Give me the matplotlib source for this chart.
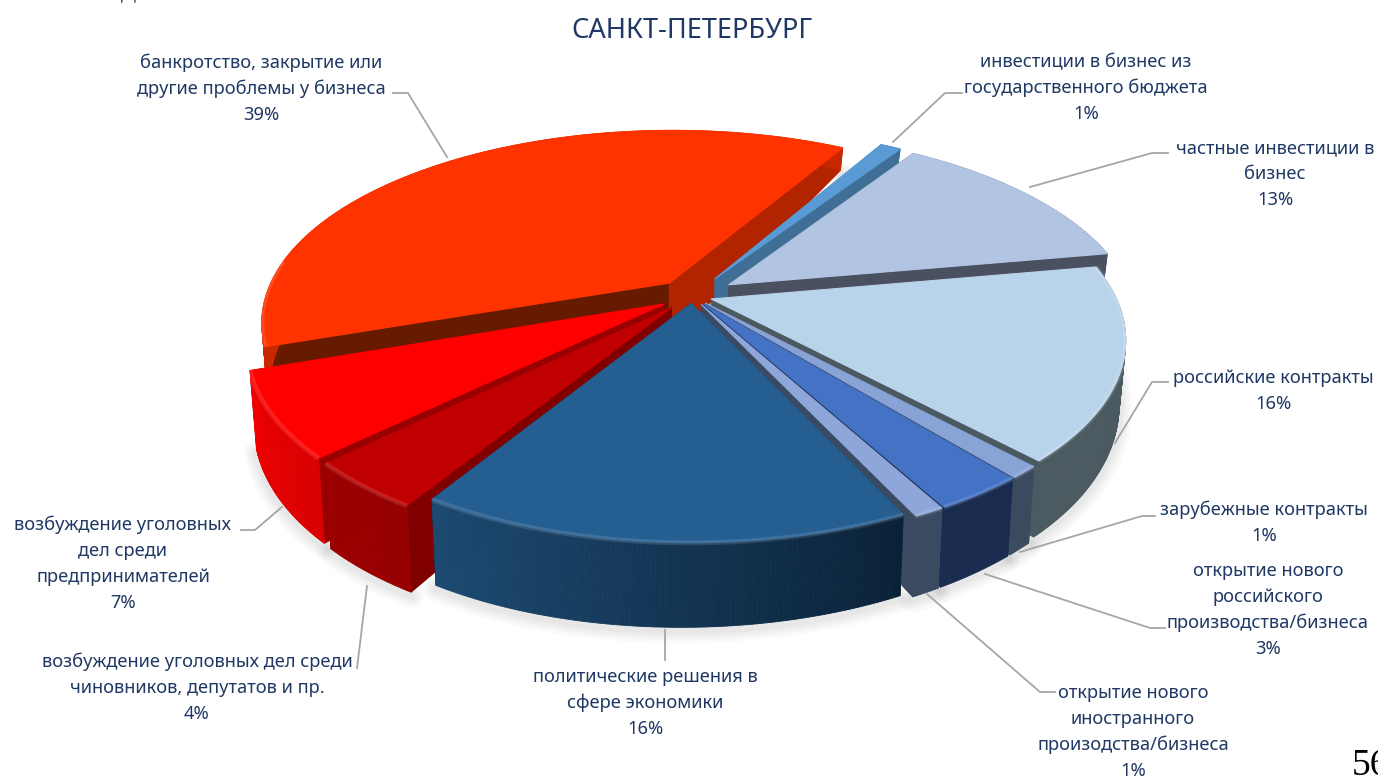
import numpy as np
import matplotlib
matplotlib.use("Agg")
import matplotlib.pyplot as plt
from matplotlib.colors import to_rgb
from matplotlib.patches import Polygon

# ---------- data ----------
categories = ["инвестиции в бизнес из\nгосударственного бюджета",
              "частные инвестиции в\nбизнес",
              "российские контракты",
              "зарубежные контракты",
              "открытие нового\nроссийского\nпроизводства/бизнеса",
              "открытие нового\nиностранного\nпроизодства/бизнеса",
              "политические решения в\nсфере экономики",
              "возбуждение уголовных дел среди\nчиновников, депутатов и пр.",
              "возбуждение уголовных\nдел среди\nпредпринимателей",
              "банкротство, закрытие или\nдругие проблемы у бизнеса"]
values = [1, 13, 16, 1, 3, 1, 16, 4, 7, 39]
title = "САНКТ-ПЕТЕРБУРГ"

# ---------- styles ----------
explode = [0.11, 0.11, 0.05, 0.05, 0.05, 0.05, 0.04, 0.08, 0.08, 0.09]
top_col = ["#5b9bd5", "#b1c4e2", "#b9d4ea", "#8aa3d6", "#4472c4", "#8ea6da",
           "#255e91", "#c00000", "#ff0000", "#ff3300"]
wall_a = ["#3f6e96", "#4a5060", "#4b5a60", "#3c4a60", "#192c50", "#3a4a60",
          "#0a2238", "#960000", "#d80000", "#c82800"]
wall_b = ["#3f6e96", "#4a5060", "#4b5a60", "#3c4a60", "#192c50", "#3a4a60",
          "#1d4a72", "#9c0000", "#f00000", "#c82800"]
rad_cw = ["#3f6e96", "#4a5060", "#4b5a60", "#3c4a60", "#192c50", "#3a4a60",
          "#0a2238", "#800000", "#990000", "#b22400"]
rad_ccw = ["#3f6e96", "#4a5060", "#4b5a60", "#3c4a60", "#192c50", "#3a4a60",
           "#3a4a60", "#800000", "#990000", "#661a00"]
paint_order = [9, 0, 1, 2, 8, 3, 4, 7, 5, 6]
start_deg = 30.0
cx, cy, rx, ry, persp = 692.0, 296.0, 404.0, 188.0, 0.20
text_col = "#1f3864"
line_col = "#a6a6a6"

label_pos = [(1086, 62), (1275, 148), (1273, 378), (1264, 510), (1268, 571),
             (1133, 693), (645, 677), (197, 662), (123, 525), (261, 63)]
leaders = [[(962, 93), (945, 93), (893, 142)],
           [(1168, 153), (1152, 153), (1030, 187)],
           [(1168, 382), (1152, 382), (1115, 443)],
           [(1155, 516), (1142, 516), (1020, 552)],
           [(1165, 628), (1150, 628), (985, 574)],
           [(1055, 692), (1040, 692), (927, 594)],
           [(665, 660), (665, 630)],
           [(357, 668), (367, 586)],
           [(241, 530), (255, 530), (282, 507)],
           [(393, 93), (408, 93), (447, 157)]]

fig = plt.figure(figsize=(13.78, 7.76), dpi=100, facecolor="white")
ax = fig.add_axes([0, 0, 1, 1])
ax.set_xlim(0, 1378)
ax.set_ylim(776, 0)
ax.axis("off")


def project(x, y):
    s = 1 / (1 + persp * y)
    return cx + rx * x * s, cy - ry * y * s


def lower(px, py, x, y):
    return cx + (px - cx) * 0.985, py + (63 - 31 * y - 10 * y ** 2 - 6 * x)


share = np.array(values, float) / sum(values) * 360
edges = start_deg + np.concatenate([[0], np.cumsum(share)])

geo = []
for i in range(len(values)):
    t = np.radians(np.linspace(edges[i], edges[i + 1], max(int(share[i] * 2), 8)))
    m = np.radians((edges[i] + edges[i + 1]) / 2)
    ox, oy = explode[i] * np.sin(m), explode[i] * np.cos(m)
    ux, uy = ox + np.sin(t), oy + np.cos(t)
    ax_, ay_ = project(ox, oy)
    px, py = project(ux, uy)
    bx, by = lower(px, py, ux, uy)
    abx, aby = lower(ax_, ay_, ox, oy)
    geo.append(dict(ax=ax_, ay=ay_, px=px, py=py, bx=bx, by=by, abx=abx, aby=aby, uy=uy))

# soft ground shadow
for w, a in zip([26, 20, 14, 8], [0.025, 0.03, 0.035, 0.04]):
    for g in geo:
        ax.plot(g["bx"], g["by"] + 3, color="#505050", alpha=a, lw=w * 0.72,
                solid_capstyle="round", zorder=1)

z = 2
for i in paint_order:
    g = geo[i]
    # radial walls
    for k, col in ((0, rad_ccw[i]), (-1, rad_cw[i])):
        pts = [(g["ax"], g["ay"]), (g["px"][k], g["py"][k]),
               (g["bx"][k], g["by"][k]), (g["abx"], g["aby"])]
        ax.add_patch(Polygon(pts, closed=True, fc=col, ec=col, lw=0.6, zorder=z))
    z += 1
    # outer wall with gradient along the arc
    ca, cb = np.array(to_rgb(wall_a[i])), np.array(to_rgb(wall_b[i]))
    n = len(g["px"]) - 1
    for j in range(n):
        f = j / max(n - 1, 1)
        col = tuple(ca + (cb - ca) * f)
        pts = [(g["px"][j], g["py"][j]), (g["px"][j + 1], g["py"][j + 1]),
               (g["bx"][j + 1], g["by"][j + 1]), (g["bx"][j], g["by"][j])]
        ax.add_patch(Polygon(pts, closed=True, fc=col, ec=col, lw=0.6, zorder=z))
    z += 1
    # top face
    pts = [(g["ax"], g["ay"])] + list(zip(g["px"], g["py"]))
    ax.add_patch(Polygon(pts, closed=True, fc=top_col[i], ec=top_col[i], lw=0.8,
                         joinstyle="round", zorder=z))
    z += 1
    # bevel highlight on the front part of the rim
    front = g["uy"] < 0.2
    if front.any():
        ax.plot(g["px"][front], g["py"][front], color="white", alpha=0.12, lw=3.5,
                solid_capstyle="butt", zorder=z)
    z += 1

# leader lines
for pts in leaders:
    xs, ys = zip(*pts)
    ax.plot(xs, ys, color=line_col, lw=1.3, zorder=z)
z += 1

# labels
font = "Noto Sans"
fs = 13.2
for name, val, (lx, ly) in zip(categories, values, label_pos):
    for n, line in enumerate(name.split("\n") + [f"{val}%"]):
        ax.text(lx, ly + n * 26.0, line, ha="center", va="center", family=font,
                fontsize=fs, color=text_col, zorder=z)

ax.text(692, 31, title, ha="center", va="center", family=font, fontsize=19.6,
        color="#1f3864", zorder=z)
ax.text(1352, 775, "56", ha="left", va="baseline", family="Liberation Serif",
        fontsize=27, color="black", zorder=z)
ax.text(121, -2, "Д", ha="left", va="baseline", family="Liberation Serif",
        fontsize=16, color="#222222", zorder=z)

fig.savefig("out.png", dpi=100)
